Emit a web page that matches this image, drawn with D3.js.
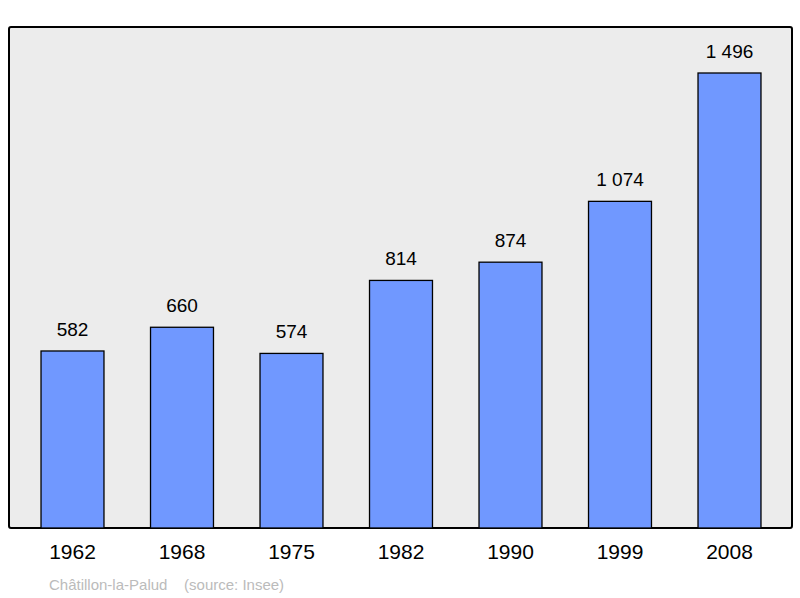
<!DOCTYPE html>
<html><head><meta charset="utf-8">
<script src="https://cdn.jsdelivr.net/npm/d3@7"></script>
<style>body{margin:0;background:#fff}</style></head>
<body><svg id="c" width="800" height="598"></svg>
<script>
const years = ["1962","1968","1975","1982","1990","1999","2008"];
const population = [582,660,574,814,874,1074,1496];
const labels = ["582","660","574","814","874","1 074","1 496"];
const svg = d3.select("#c");
const font = "Liberation Sans, Arial, sans-serif";
svg.append("rect").attr("x",9).attr("y",27).attr("width",783).attr("height",501)
  .attr("fill","#ececec").attr("stroke","#000").attr("stroke-width",2).attr("rx",2);
const x = d3.scaleBand().domain(years).range([17.75,784.25]).paddingInner(0.425).paddingOuter(0.2125);
const y = d3.scaleLinear().domain([0,1496]).range([528,73]);
svg.selectAll(".bar").data(population).enter().append("rect")
  .attr("x",(d,i)=>x(years[i])).attr("y",d=>y(d)).attr("width",x.bandwidth()).attr("height",d=>528-y(d))
  .attr("fill","#7098ff").attr("stroke","#000").attr("stroke-width",1.3);
svg.selectAll(".lab").data(population).enter().append("text")
  .attr("x",(d,i)=>x(years[i])+x.bandwidth()/2).attr("y",d=>y(d)-15)
  .attr("text-anchor","middle").attr("font-family",font).attr("font-size",19).text((d,i)=>labels[i]);
const ax = svg.append("g").attr("transform","translate(0,528)").call(d3.axisBottom(x).tickSize(0).tickPadding(16));
ax.select(".domain").remove();
ax.selectAll("text").attr("font-family",font).attr("font-size",21).attr("fill","#000");
svg.append("text").attr("x",49).attr("y",590).attr("font-family",font).attr("font-size",15)
  .attr("fill","#bbb").attr("xml:space","preserve").text("Châtillon-la-Palud    (source: Insee)");
</script></body></html>
